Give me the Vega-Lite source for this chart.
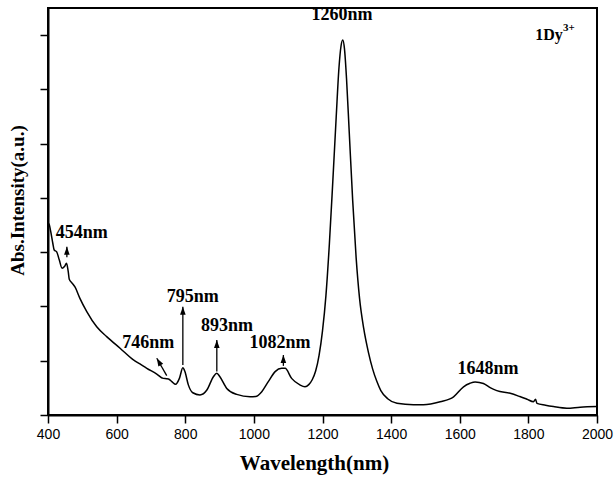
{
  "$schema": "https://vega.github.io/schema/vega-lite/v6.json",
  "width": 549,
  "height": 407,
  "autosize": {"type": "none"},
  "padding": {"left": 48, "top": 8, "right": 17, "bottom": 64},
  "background": "white",
  "config": {
    "view": {"stroke": "black", "strokeWidth": 2},
    "axis": {
      "domainColor": "black", "domainWidth": 2, "tickColor": "black", "tickWidth": 1.5,
      "labelFont": "Liberation Sans", "labelFontSize": 14, "labelColor": "black",
      "titleFont": "Liberation Serif", "titleFontWeight": "bold", "titleColor": "black",
      "grid": false
    }
  },
  "datasets": {
    "spectrum": [
      {"w":400,"a":7.1},{"w":404,"a":7.0},{"w":408,"a":6.76},{"w":414,"a":6.33},{"w":418,"a":6.08},{"w":425,"a":6.02},{"w":433,"a":5.71},{"w":441,"a":5.41},{"w":448,"a":5.47},{"w":454,"a":5.59},{"w":459,"a":5.28},{"w":462,"a":5.0},{"w":469,"a":4.88},{"w":479,"a":4.71},{"w":493,"a":4.3},{"w":513,"a":3.81},{"w":542,"a":3.25},{"w":571,"a":2.89},{"w":610,"a":2.46},{"w":649,"a":2.03},{"w":668,"a":1.88},{"w":688,"a":1.72},{"w":717,"a":1.51},{"w":736,"a":1.35},{"w":745,"a":1.34},{"w":751,"a":1.33},{"w":761,"a":1.23},{"w":772,"a":1.13},{"w":783,"a":1.35},{"w":793,"a":1.74},{"w":799,"a":1.6},{"w":809,"a":1.11},{"w":822,"a":0.82},{"w":843,"a":0.74},{"w":863,"a":0.92},{"w":882,"a":1.41},{"w":892,"a":1.54},{"w":901,"a":1.41},{"w":921,"a":0.98},{"w":950,"a":0.76},{"w":989,"a":0.67},{"w":1005,"a":0.68},{"w":1023,"a":0.86},{"w":1042,"a":1.23},{"w":1062,"a":1.6},{"w":1081,"a":1.72},{"w":1091,"a":1.72},{"w":1110,"a":1.35},{"w":1134,"a":1.11},{"w":1149,"a":1.04},{"w":1160,"a":1.12},{"w":1170,"a":1.3},{"w":1180,"a":1.62},{"w":1190,"a":2.2},{"w":1200,"a":3.1},{"w":1210,"a":4.4},{"w":1220,"a":6.3},{"w":1230,"a":8.6},{"w":1240,"a":11.0},{"w":1248,"a":12.8},{"w":1254,"a":13.6},{"w":1259,"a":13.82},{"w":1264,"a":13.5},{"w":1270,"a":12.4},{"w":1278,"a":10.4},{"w":1288,"a":7.9},{"w":1298,"a":5.8},{"w":1308,"a":4.3},{"w":1320,"a":3.2},{"w":1334,"a":2.3},{"w":1346,"a":1.7},{"w":1358,"a":1.25},{"w":1370,"a":0.9},{"w":1390,"a":0.6},{"w":1417,"a":0.43},{"w":1465,"a":0.38},{"w":1494,"a":0.38},{"w":1543,"a":0.49},{"w":1582,"a":0.67},{"w":1611,"a":1.04},{"w":1630,"a":1.17},{"w":1645,"a":1.22},{"w":1669,"a":1.16},{"w":1690,"a":1.0},{"w":1708,"a":0.9},{"w":1747,"a":0.8},{"w":1775,"a":0.68},{"w":1796,"a":0.58},{"w":1815,"a":0.49},{"w":1821,"a":0.58},{"w":1825,"a":0.43},{"w":1850,"a":0.36},{"w":1873,"a":0.31},{"w":1912,"a":0.25},{"w":1951,"a":0.29},{"w":2000,"a":0.31}
    ],
    "labels": [
      {"w":498,"a":6.72,"text":"454nm"},
      {"w":692,"a":2.64,"text":"746nm"},
      {"w":822,"a":4.34,"text":"795nm"},
      {"w":922,"a":3.28,"text":"893nm"},
      {"w":1076,"a":2.64,"text":"1082nm"},
      {"w":1257,"a":14.74,"text":"1260nm"},
      {"w":1682,"a":1.7,"text":"1648nm"}
    ],
    "arrows": [
      {"w":455,"a":5.81,"w2":455,"a2":6.2,"angle":0},
      {"w":746,"a":1.45,"w2":717,"a2":2.09,"angle":-30},
      {"w":793,"a":1.84,"w2":793,"a2":3.99,"angle":0},
      {"w":892,"a":1.6,"w2":892,"a2":2.76,"angle":0},
      {"w":1086,"a":1.81,"w2":1086,"a2":2.21,"angle":0}
    ],
    "sample": [
      {"w":1820,"a":14.02,"text":"1Dy","size":16},
      {"w":1901,"a":14.28,"text":"3+","size":11}
    ]
  },
  "layer": [
    {
      "data": {"name": "spectrum"},
      "mark": {"type": "line", "color": "black", "strokeWidth": 1.5, "interpolate": "monotone"},
      "encoding": {
        "x": {"field": "w", "type": "quantitative", "scale": {"domain": [400, 2000], "nice": false, "zero": false},
          "axis": {"title": "Wavelength(nm)", "titleFontSize": 21, "titlePadding": 11, "titleX": 266,
            "values": [400,500,600,700,800,900,1000,1100,1200,1300,1400,1500,1600,1700,1800,1900,2000],
            "format": "d", "labelExpr": "datum.value % 200 === 0 ? datum.label : ''",
            "tickSize": {"condition": {"test": "datum.value % 200 !== 0", "value": 4}, "value": 8},
            "labelPadding": 4, "labelFlush": false, "labelOverlap": false}},
        "y": {"field": "a", "type": "quantitative", "scale": {"domain": [0, 15], "nice": false, "zero": false},
          "axis": {"title": "Abs.Intensity(a.u.)", "titleFontSize": 19, "titlePadding": 12,
            "values": [0,1,2,3,4,5,6,7,8,9,10,11,12,13,14], "labels": false, "tickSize": 8, "titleY": 192}}
      }
    },
    {
      "data": {"name": "arrows"},
      "mark": {"type": "rule", "color": "black", "strokeWidth": 1.3},
      "encoding": {
        "x": {"field": "w", "type": "quantitative"},
        "y": {"field": "a", "type": "quantitative"},
        "x2": {"field": "w2"},
        "y2": {"field": "a2"}
      }
    },
    {
      "data": {"name": "arrows"},
      "mark": {"type": "point", "shape": "M0,0L-0.35,1L0.35,1Z", "filled": true, "color": "black", "opacity": 1, "size": 256},
      "encoding": {
        "x": {"field": "w2", "type": "quantitative"},
        "y": {"field": "a2", "type": "quantitative"},
        "angle": {"field": "angle", "type": "quantitative", "scale": null}
      }
    },
    {
      "data": {"name": "labels"},
      "mark": {"type": "text", "font": "Liberation Serif", "fontWeight": "bold", "fontSize": 18, "color": "black", "baseline": "middle", "align": "center"},
      "encoding": {
        "x": {"field": "w", "type": "quantitative"},
        "y": {"field": "a", "type": "quantitative"},
        "text": {"field": "text"}
      }
    },
    {
      "data": {"name": "sample"},
      "mark": {"type": "text", "font": "Liberation Serif", "fontWeight": "bold", "color": "black", "baseline": "middle", "align": "left"},
      "encoding": {
        "x": {"field": "w", "type": "quantitative"},
        "y": {"field": "a", "type": "quantitative"},
        "text": {"field": "text"},
        "size": {"field": "size", "type": "quantitative", "scale": null}
      }
    }
  ]
}
